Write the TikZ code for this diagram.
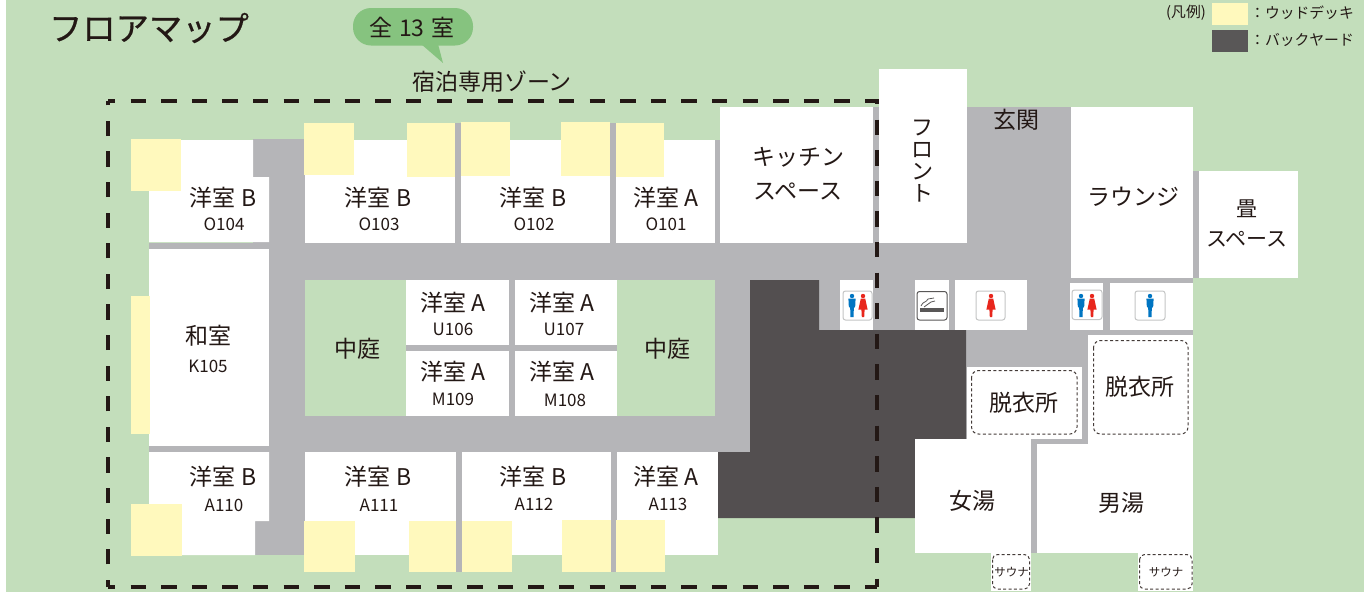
\documentclass[tikz,border=0pt]{standalone}
\usepackage{fontspec}
\setmainfont{Noto Sans CJK JP}
\usepackage{tikz}
\definecolor{lawn}{HTML}{C3DEBB}
\definecolor{aislegray}{HTML}{B5B5B8}
\definecolor{yardgray}{HTML}{534F50}
\definecolor{legendgray}{HTML}{595757}
\definecolor{deckyellow}{HTML}{FFF9BD}
\definecolor{bubblegreen}{HTML}{86C37F}
\definecolor{inkblack}{HTML}{231815}
\definecolor{manblue}{HTML}{0075C2}
\definecolor{ladyred}{HTML}{E8261C}
\definecolor{markedge}{HTML}{C4C5C5}
\tikzset{
  room/.style={fill=white},
  deck/.style={fill=deckyellow},
  aisle/.style={fill=aislegray},
  yard/.style={fill=yardgray},
  garden/.style={fill=lawn},
  zone/.style={draw=inkblack,line width=4pt,dash pattern=on 15.3pt off 15.3pt,dash phase=8pt},
  booth/.style={draw=inkblack!85,line width=1pt,dash pattern=on 3pt off 2.4pt,rounded corners=7pt},
  markbox/.style={draw=markedge,fill=white,line width=1pt,rounded corners=2.5pt},
  lbl/.style={text=inkblack,inner sep=0pt,font=\fontsize{23}{34}\selectfont,align=center},
  num/.style={text=inkblack,inner sep=0pt,font=\fontsize{17}{18}\selectfont},
  tiny/.style={text=inkblack,inner sep=0pt,font=\fontsize{11.5}{14}\selectfont},
  key/.style={text=inkblack,inner sep=0pt,font=\fontsize{14.8}{16}\selectfont},
}
\newcommand{\manmark}[2]{
  \fill[manblue] (#1,296) circle (2.2);
  \fill[manblue,shift={(#1,#2)}] (-3.6,-7) -- (3.6,-7) -- (3.2,1) -- (1.8,2.5) -- (1.6,11.5) -- (-1.6,11.5) -- (-1.8,2.5) -- (-3.2,1) -- cycle;
}
\newcommand{\ladymark}[2]{
  \fill[ladyred] (#1,296) circle (2.2);
  \fill[ladyred,shift={(#1,#2)}] (-2.2,-7) -- (2.2,-7) -- (4.6,4) -- (1.6,4) -- (1.2,11.5) -- (-1.2,11.5) -- (-1.6,4) -- (-4.6,4) -- cycle;
}
\begin{document}
\begin{tikzpicture}[x=1pt,y=-1pt]
  \useasboundingbox (0,0) rectangle (1370,592);
  \fill[garden] (6,0) rectangle (1364,592);

  \fill[aisle] (253,139) rectangle (305,555);
  \fill[aisle] (149,243) rectangle (305,452);
  \fill[aisle] (305,243) rectangle (750,452);
  \fill[aisle] (750,243) rectangle (1071,330);
  \fill[aisle] (967,107) rectangle (1071,330);
  \fill[aisle] (1071,278) rectangle (1193,335);
  \fill[aisle] (966,330) rectangle (1088,439);
  \fill[aisle] (1031,439) rectangle (1088,444);
  \fill[aisle] (1031,439) rectangle (1037,553);
  \fill[aisle] (1193,171) rectangle (1199,278);
  \fill[aisle] (455,123) rectangle (461,243);
  \fill[aisle] (610,123) rectangle (616,243);
  \fill[aisle] (715,140) rectangle (720,243);
  \fill[aisle] (873,107) rectangle (879,243);
  \fill[aisle] (456,452) rectangle (462,572);
  \fill[aisle] (611,452) rectangle (617,572);

  \fill[yard] (750,280) -- (819,280) -- (819,330) -- (966,330) -- (966,439) -- (915,439) -- (915,518) -- (718,518) -- (718,452) -- (750,452) -- cycle;

  \fill[room] (149,140) -- (253,140) -- (253,177) -- (269,177) -- (269,242) -- (149,242) -- cycle;
  \fill[room] (305,140) rectangle (455,243);
  \fill[room] (461,140) rectangle (610,243);
  \fill[room] (616,140) rectangle (715,243);
  \fill[room] (720,107) rectangle (873,243);
  \fill[room] (879,69) rectangle (967,243);
  \fill[room] (1071,107) rectangle (1193,278);
  \fill[room] (1199,171) rectangle (1298,278);
  \fill[room] (149,249) rectangle (269,446);
  \fill[garden] (305,280) rectangle (406,416);
  \fill[room] (406,280) rectangle (509,345);
  \fill[room] (515,280) rectangle (617,345);
  \fill[room] (406,351) rectangle (509,416);
  \fill[room] (515,351) rectangle (617,416);
  \fill[garden] (617,280) rectangle (715,416);
  \fill[room] (149,452) -- (269,452) -- (269,521) -- (255,521) -- (255,555) -- (149,555) -- cycle;
  \fill[room] (305,452) rectangle (456,555);
  \fill[room] (462,452) rectangle (611,555);
  \fill[room] (617,452) rectangle (718,555);
  \fill[room] (840,280) rectangle (873,330);
  \fill[room] (915,280) rectangle (949,330);
  \fill[room] (955,280) rectangle (1027,330);
  \fill[room] (1070,283) rectangle (1103,330);
  \fill[room] (1110,283) rectangle (1193,330);
  \fill[room] (967,367) rectangle (1082,439);
  \fill[room] (1088,335) rectangle (1193,444);
  \fill[room] (915,439) rectangle (1031,553);
  \fill[room] (1037,444) rectangle (1193,553);
  \fill[room] (991,553) rectangle (1031,591);
  \fill[room] (1138,553) rectangle (1193,591);

  \fill[deck] (131,139) rectangle (181,191);
  \fill[deck] (304,123) rectangle (354,175);
  \fill[deck] (407,123) rectangle (455,177);
  \fill[deck] (461,122) rectangle (510,176);
  \fill[deck] (561,122) rectangle (610,176);
  \fill[deck] (616,123) rectangle (664,177);
  \fill[deck] (131,296) rectangle (150,434);
  \fill[deck] (131,504) rectangle (182,556);
  \fill[deck] (304,521) rectangle (355,572);
  \fill[deck] (409,521) rectangle (456,572);
  \fill[deck] (462,521) rectangle (512,572);
  \fill[deck] (562,520) rectangle (611,572);
  \fill[deck] (616,520) rectangle (665,572);

  \coordinate (ZTL) at (108,101);
  \coordinate (ZTR) at (877,101);
  \coordinate (ZBR) at (877,587);
  \coordinate (ZBL) at (108,587);
  \draw[zone] (ZTL) -- (ZTR) -- (ZBR);
  \draw[zone] (ZBL) -- (ZTL);
  \draw[zone] (ZBL) -- (ZBR);

  \draw[booth] (971.5,370.5) rectangle (1077,434);
  \draw[booth] (1093.5,340.5) rectangle (1188,434);
  \draw[booth,rounded corners=5pt] (992.5,554.5) rectangle (1029.5,589);
  \draw[booth,rounded corners=5pt] (1139.5,554.5) rectangle (1192,589);

  \draw[markbox] (843,291) rectangle (872,320);
  \manmark{852}{305.5}
  \ladymark{863}{305.5}
  \draw[markbox,draw=legendgray] (917,291.5) rectangle (947,320);
  \fill[legendgray] (920,308) rectangle (944,312);
  \draw[legendgray,line width=0.8pt] (921,306) .. controls (923,301) and (926,303) .. (928,299) -- (934,298);
  \draw[legendgray,line width=0.8pt] (924,307) .. controls (926,304) and (929,305) .. (931,302) -- (935,301);
  \draw[markbox] (976,291) rectangle (1005,320);
  \ladymark{991}{305.5}
  \draw[markbox] (1072,290) rectangle (1102,319.5);
  \manmark{1081}{305.5}
  \ladymark{1092}{305.5}
  \draw[markbox] (1135,291) rectangle (1165,320);
  \manmark{1150}{305.5}

  \fill[bubblegreen,rounded corners=18pt] (353,8) rectangle (473,45.5);
  \fill[bubblegreen] (421,44) -- (443,63) -- (438,44) -- cycle;
  \node[lbl] (ALL) at (412,27) {全\hspace{2pt} 13\hspace{2pt} 室};
  \node[lbl,font=\fontsize{33.3}{36}\selectfont\addfontfeature{FakeBold=0.6}] (TITLE) at (149,28) {フロアマップ};
  \node[lbl] (ZONE) at (492,82) {宿泊専用ゾーン};

  \node[key] (KEY) at (1186,13) {(凡例)};
  \fill[deck] (1212,3) rectangle (1248,25);
  \fill[legendgray] (1212,30) rectangle (1248,52);
  \node[key,anchor=west] (KD) at (1250,13) {：ウッドデッキ};
  \node[key,anchor=west] (KB) at (1250,40) {：バックヤード};

  \node[lbl] (RO104) at (223,198) {洋室 B};
  \node[num] (O104) at (224,224) {O104};
  \node[lbl] (RO103) at (378,198) {洋室 B};
  \node[num] (O103) at (379,224) {O103};
  \node[lbl] (RO102) at (533,198) {洋室 B};
  \node[num] (O102) at (534,224) {O102};
  \node[lbl] (RO101) at (666,198) {洋室 A};
  \node[num] (O101) at (666,224) {O101};
  \node[lbl] (KITCHEN) at (798,174) {キッチン\\スペース};
  \node[lbl,font=\fontsize{22}{22}\selectfont] (FRONT) at (922,161) {フ\\ロ\\ン\\ト};
  \node[lbl] (ENT) at (1016,120) {玄関};
  \node[lbl] (LOUNGE) at (1133,197) {ラウンジ};
  \node[lbl,font=\fontsize{21}{30}\selectfont] (TATAMI) at (1247,223) {畳\\スペース};
  \node[lbl] (RK105) at (208,336) {和室};
  \node[num] (K105) at (208,366) {K105};
  \node[lbl] (COURTL) at (357,349) {中庭};
  \node[lbl] (COURTR) at (667,349) {中庭};
  \node[lbl] (RU106) at (453,303) {洋室 A};
  \node[num] (U106) at (453,329) {U106};
  \node[lbl] (RU107) at (562,303) {洋室 A};
  \node[num] (U107) at (564,329) {U107};
  \node[lbl] (RM109) at (453,372) {洋室 A};
  \node[num] (M109) at (453,399) {M109};
  \node[lbl] (RM108) at (562,372) {洋室 A};
  \node[num] (M108) at (565,400) {M108};
  \node[lbl] (RA110) at (223,477) {洋室 B};
  \node[num] (A110) at (224,505) {A110};
  \node[lbl] (RA111) at (378,477) {洋室 B};
  \node[num] (A111) at (379,505) {A111};
  \node[lbl] (RA112) at (533,477) {洋室 B};
  \node[num] (A112) at (534,504) {A112};
  \node[lbl] (RA113) at (666,477) {洋室 A};
  \node[num] (A113) at (668,504) {A113};
  \node[lbl] (CHANGEW) at (1024,403) {脱衣所};
  \node[lbl] (CHANGEM) at (1140,387) {脱衣所};
  \node[lbl] (BATHW) at (972,501) {女湯};
  \node[lbl] (BATHM) at (1121,503) {男湯};
  \node[tiny] (SAUNAW) at (1011.5,572) {サウナ};
  \node[tiny] (SAUNAM) at (1166,572) {サウナ};
\end{tikzpicture}
\end{document}
